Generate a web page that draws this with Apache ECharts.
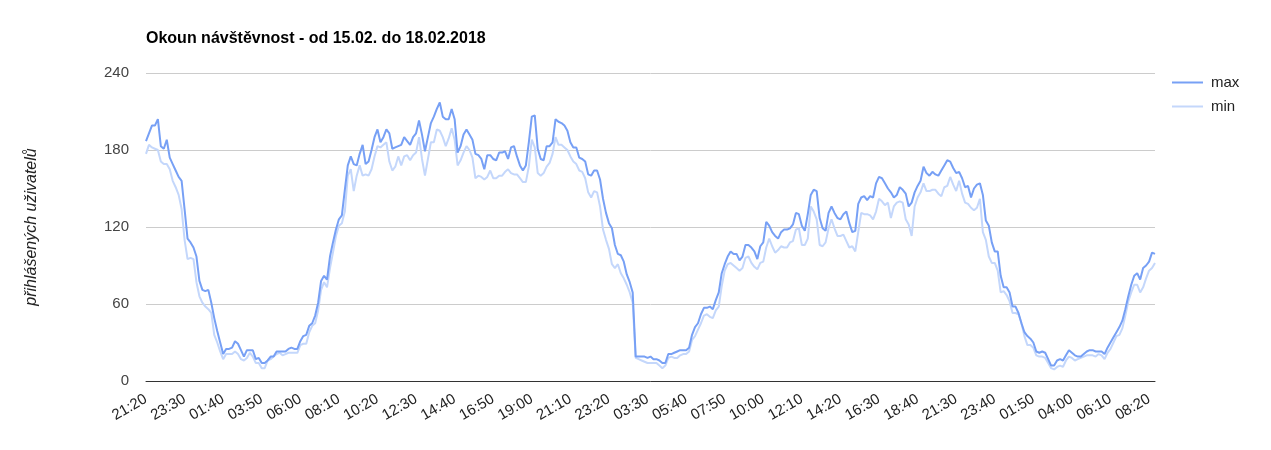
<!DOCTYPE html>
<html lang="cs">
  <head>
    <meta charset="UTF-8" />
    <title>Okoun návštěvnost</title>
    <script src="https://cdn.jsdelivr.net/npm/echarts@6/dist/echarts.min.js"></script>
    <style>
      html,
      body {
        margin: 0;
        padding: 0;
        background: #fff;
      }
      #chart {
        width: 1271px;
        height: 450px;
      }
    </style>
  </head>
  <body>
    <div id="chart"></div>
    <script>
      // popisky na ose x (kazdy 13. bod, krok 10 minut)
      const tickLabels = [
        "21:20", "23:30", "01:40", "03:50", "06:00", "08:10", "10:20", "12:30", "14:40",
        "16:50", "19:00", "21:10", "23:20", "03:30", "05:40", "07:50", "10:00", "12:10",
        "14:20", "16:30", "18:40", "21:30", "23:40", "01:50", "04:00", "06:10", "08:20",
      ];
      const yTicks = [0, 60, 120, 180, 240];

      const maxUsers = [
        187, 193, 199, 199, 204, 183, 181, 188, 174, 169, 164, 159, 156, 134, 111, 108, 104, 97, 78, 71,
        70, 71, 61, 49, 39, 30, 21, 25, 25, 26, 31, 29, 24, 19, 24, 24, 24, 17,
        18, 14, 14, 16, 19, 19, 23, 23, 23, 23, 25, 26, 25, 25, 31, 35, 36, 43, 45, 51, 61, 78,
        82, 79, 97, 108, 118, 126, 129, 149, 168, 175, 169, 168, 177, 184, 169, 171, 180, 190, 196, 186,
        190, 196, 193, 181, 182, 183, 184, 190, 187, 184, 190, 193, 203, 192, 179, 190, 201, 206, 212, 217,
        206, 204, 204, 212, 204, 178, 183, 192, 196, 192, 188, 177, 176, 173, 165, 176, 176, 173, 172, 178,
        178, 179,
        173, 182, 183, 175, 168, 164, 168, 186, 206, 207, 181, 173, 172, 183, 183, 186, 204, 202, 201, 199,
        195, 186, 182, 182, 174, 173, 171, 161, 160, 164, 164, 157, 142, 131, 123, 119, 106, 99, 98, 93,
        83, 77, 69,
        19, 19, 19, 19, 18, 19, 17, 17, 16, 14, 14, 21, 21, 22, 23, 24, 24, 24, 26, 36,
        42, 45, 52, 57, 57, 58, 56, 63, 69, 84, 91, 97, 101, 99, 99, 94, 97, 106, 106, 104,
        101, 95, 105,
        108, 124, 121, 116, 113, 111, 116, 118, 118, 119, 122, 131, 130, 121, 117, 130, 145, 149, 148, 127,
        119, 117, 131, 136, 131, 127, 126, 130, 132, 123, 116, 117, 138, 143, 144, 141, 144, 143, 154, 159,
        158, 154,
        150, 147, 143, 145, 151, 149, 146, 136, 139, 147, 152, 156, 167, 162, 160, 163, 161, 160, 164, 168,
        172, 171, 166, 162, 163, 158, 151, 152, 143, 150, 153, 154, 145, 125, 121, 108, 101, 101, 82, 73,
        73, 69,
        58, 58, 53, 45, 38, 35, 33, 30, 23, 22, 23, 22, 17, 12, 12, 16, 17, 16, 20, 24,
        22, 20, 19, 19, 21, 23, 24, 24, 23, 23, 23, 21, 26, 30, 34, 38, 42, 47, 56, 66,
        75, 82, 84, 79, 88, 90, 93, 100, 99,
      ];

      const minUsers = [
        177, 184, 182, 181, 180, 171, 169, 169, 165, 156, 151, 145, 134, 110, 95, 96, 95, 77, 66, 61,
        58, 56, 53, 36, 30, 23, 17, 21, 21, 21, 23, 21, 17, 16, 18, 22, 19, 14,
        14, 10, 10, 16, 17, 19, 21, 22, 20, 21, 22, 22, 22, 22, 28, 29, 29, 38, 43, 45, 55, 71,
        77, 73, 88, 100, 113, 121, 123, 132, 160, 165, 148, 160, 168, 160, 161, 160, 165, 175, 183, 182,
        184, 186, 171, 164, 167, 175, 168, 175, 176, 172, 176, 178, 190, 173, 160, 173, 186, 186, 196, 195,
        190, 183, 189, 197, 188, 168, 172, 178, 183, 180, 174, 158, 160, 159, 157, 159, 164, 158, 158, 160,
        160, 163,
        165, 162, 161, 161, 158, 155, 155, 167, 188, 182, 162, 160, 162, 167, 170, 177, 190, 184, 184, 182,
        180, 175, 171, 169, 164, 163, 158, 147, 143, 148, 147, 136, 118, 110, 103, 91, 88, 91, 84, 80,
        75, 69, 61,
        18, 17, 16, 15, 14, 14, 14, 14, 12, 10, 12, 18, 19, 18, 18, 20, 21, 21, 23, 32,
        35, 40, 45, 51, 52, 50, 49, 55, 58, 74, 86, 91, 92, 90, 88, 86, 88, 96, 97, 92,
        89, 87, 92,
        93, 104, 111, 105, 100, 102, 105, 104, 104, 108, 109, 118, 119, 106, 106, 111, 136, 132, 126, 106,
        105, 108, 119, 126, 119, 113, 113, 114, 109, 104, 105, 101, 116, 131, 130, 130, 129, 126, 132, 142,
        140, 137,
        139, 127, 136, 139, 140, 139, 126, 122, 113, 136, 143, 147, 154, 148, 148, 149, 149, 146, 144, 151,
        152, 159, 153, 148, 156, 146, 139, 138, 135, 133, 135, 142, 116, 110, 97, 92, 92, 86, 69, 70,
        67, 62,
        53, 53, 52, 45, 35, 28, 28, 26, 20, 19, 19, 18, 14, 10, 9, 11, 12, 11, 16, 19,
        18, 16, 17, 18, 19, 20, 20, 20, 19, 21, 20, 17, 22, 25, 30, 35, 36, 41, 51, 62,
        69, 75, 75, 69, 73, 80, 86, 88, 92,
      ];

      const FONT = "Arial, 'Liberation Sans', sans-serif";
      const chart = echarts.init(document.getElementById("chart"));

      const option = {
        animation: false,
        textStyle: { fontFamily: FONT },
        title: {
          text: "Okoun návštěvnost - od 15.02. do 18.02.2018",
          left: 146,
          top: 31,
          padding: 0,
          textStyle: { fontSize: 16, fontWeight: "bold", color: "#000", fontFamily: FONT },
        },
        legend: {
          orient: "vertical",
          left: 1172,
          top: 75,
          padding: 0,
          itemGap: 9,
          itemWidth: 31,
          itemHeight: 2,
          icon: "rect",
          textStyle: { fontSize: 15, color: "#222", padding: [0, 0, 0, 3] },
          data: ["max", "min"],
        },
        grid: { left: 146, right: 116, top: 73, height: 308 },
        xAxis: {
          type: "category",
          boundaryGap: false,
          data: maxUsers.map((_, i) => i),
          axisLine: { lineStyle: { color: "#333", width: 1 } },
          axisTick: { show: false },
          axisLabel: {
            interval: 12,
            rotate: 30,
            margin: 17,
            fontSize: 15,
            color: "#222",
            formatter: (v, i) => tickLabels[i / 13] || "",
          },
        },
        yAxis: {
          type: "value",
          min: yTicks[0],
          max: yTicks[yTicks.length - 1],
          interval: 60,
          name: "přihlášených uživatelů",
          nameLocation: "middle",
          nameGap: 106,
          nameTextStyle: { fontSize: 16, fontStyle: "italic", color: "#222" },
          axisLine: { show: false },
          axisTick: { show: false },
          axisLabel: { fontSize: 15, color: "#444", margin: 17 },
          splitLine: { lineStyle: { color: "#ccc" } },
        },
        series: [
          {
            name: "max",
            type: "line",
            data: maxUsers,
            showSymbol: false,
            symbol: "none",
            lineStyle: { width: 2, color: "#77a0f5" },
            itemStyle: { color: "#77a0f5" },
            z: 3,
          },
          {
            name: "min",
            type: "line",
            data: minUsers,
            showSymbol: false,
            symbol: "none",
            lineStyle: { width: 2, color: "#c4d7fb" },
            itemStyle: { color: "#c4d7fb" },
            z: 2,
          },
        ],
      };

      chart.setOption(option);
    </script>
  </body>
</html>
